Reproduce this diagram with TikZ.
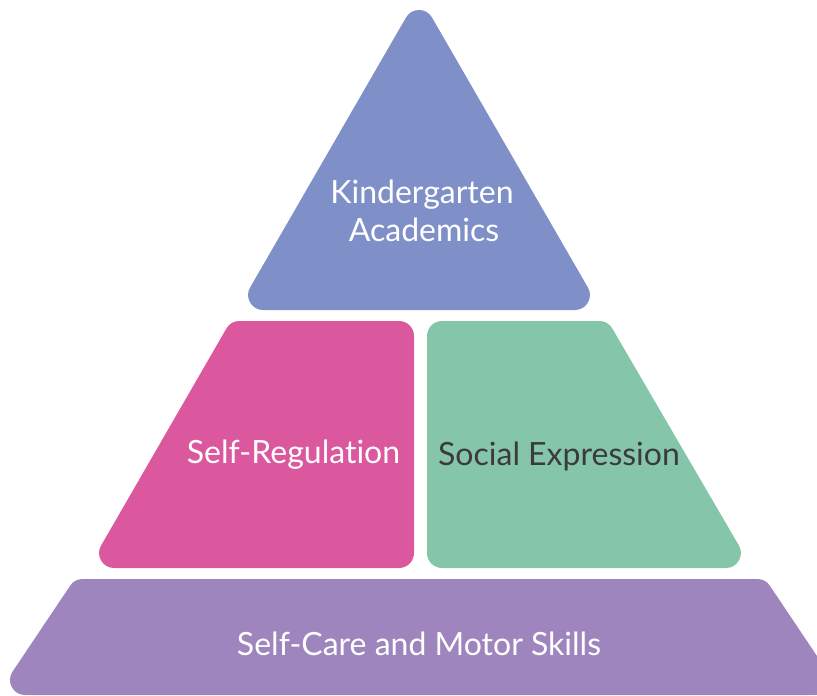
\documentclass[tikz,border=0pt]{standalone}
\usepackage{fontspec}
\setmainfont{Lato}[Ligatures={NoCommon}]
\definecolor{topblue}{HTML}{7F90C9}
\definecolor{pinkc}{HTML}{DB589E}
\definecolor{greenc}{HTML}{85C6AB}
\definecolor{purplec}{HTML}{9F85BD}
\definecolor{darktext}{HTML}{3B3B3B}
\tikzset{
  tier/.style={line width=30pt, line join=round},
  lbl/.style={font=\fontsize{32}{40}\selectfont, inner sep=0pt, anchor=base, text=white},
}
\begin{document}
\begin{tikzpicture}[x=1pt,y=-1pt]
\useasboundingbox (0,0) rectangle (817,696);
\clip (0,0) rectangle (817,696);
% top triangle
\filldraw[tier, fill=topblue, draw=topblue] (419,25) -- (574.9,295) -- (263.1,295) -- cycle;
% pink trapezoid
\filldraw[tier, fill=pinkc, draw=pinkc] (239.4,336) -- (399,336) -- (399,553) -- (114.1,553) -- cycle;
% green trapezoid
\filldraw[tier, fill=greenc, draw=greenc] (442,336) -- (599.3,336) -- (725.9,553) -- (442,553) -- cycle;
% purple base
\filldraw[tier, fill=purplec, draw=purplec] (82.65,594) -- (757.35,594) -- (815,680) -- (25,680) -- cycle;
% labels
\node[lbl] (k1) at (422,203) {Kindergarten};
\node[lbl] (k2) at (424,241) {Academics};
\node[lbl] (sr) at (293.5,463) {Self-Regulation};
\node[lbl, text=darktext] (se) at (559,465) {Social Expression};
\node[lbl] (sc) at (419,655) {Self-Care and Motor Skills};
\end{tikzpicture}
\end{document}
